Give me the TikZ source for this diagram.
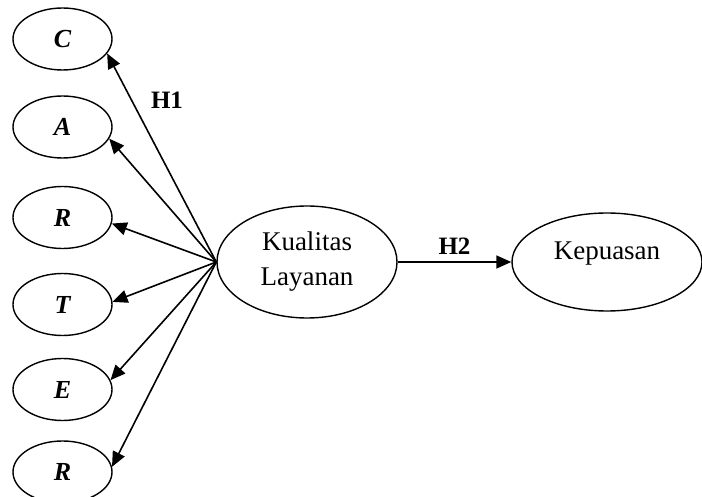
\documentclass[tikz,border=0pt]{standalone}
\usepackage{fontspec}
\setmainfont{Liberation Serif}
\usetikzlibrary{shapes.geometric, positioning, arrows.meta}

\begin{document}
\begin{tikzpicture}[
			x=0.5pt,
			y=-0.5pt,
			node distance=150pt,
			on grid,
			auto,
			dim/.style={
				draw=black,
				ellipse,
				line width=0.7pt,
				minimum width=49.5pt,
				minimum height=31pt,
				font=\fontsize{13}{15}\selectfont\bfseries\itshape
			},
			construct/.style={
				draw=black,
				ellipse,
				line width=0.7pt,
				align=center,
				font=\fontsize{13.5}{17.5}\selectfont
			},
			hyp/.style={
				font=\fontsize{12.5}{14}\selectfont\bfseries
			},
			every edge/.style={
				draw=black,
				-{Triangle[length=7.5pt,width=6.5pt]},
				line width=0.8pt
			}
			]
			\useasboundingbox (0,0) rectangle (702,497);
			% Dimensions
			\node[dim] (c) at (62.5,39) {C};
			\node[dim] (a) at (62.5,127) {A};
			\node[dim] (r) at (62.5,217.5) {R};
			\node[dim] (t) at (62.5,304.5) {T};
			\node[dim] (e) at (62.5,389.5) {E};
			\node[dim] (r2) at (62.5,472) {R};
			% Constructs
			\node[construct, minimum width=90pt, minimum height=56pt] (kual) at (307,262) {Kualitas\\Layanan};
			\node[construct, minimum width=95pt, minimum height=49pt, text depth=11pt, right=of kual] (kep) {Kepuasan};
			% Paths
			\path (kual.west) edge (c.-18)
				(kual.west) edge (a.-14)
				(kual.west) edge (r.-7)
				(kual.west) edge (t.3)
				(kual.west) edge (e.11)
				(kual.west) edge (r2.6);
			\node[hyp] (h1) at (167,100) {H1};
			\path (kual) edge node[hyp] (h2) {H2} (kep);
		\end{tikzpicture}
\end{document}
